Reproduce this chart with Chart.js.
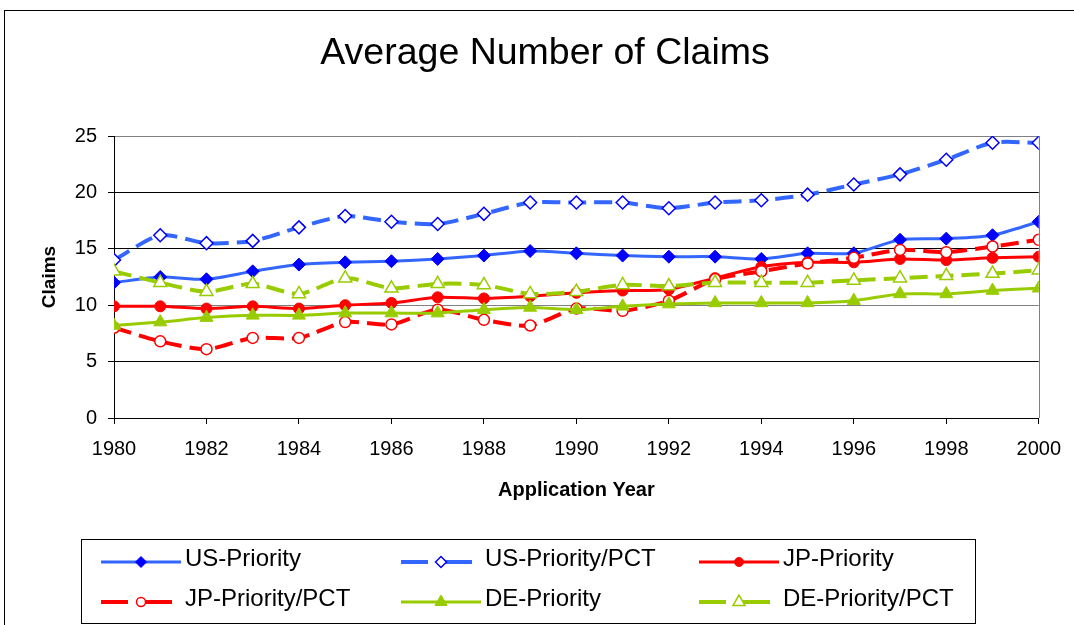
<!DOCTYPE html>
<html>
<head>
<meta charset="utf-8">
<script src="https://cdn.jsdelivr.net/npm/chart.js@4.4.1/dist/chart.umd.min.js"></script>
<style>
  html, body { margin: 0; padding: 0; background: #fff; }
</style>
</head>
<body>
<canvas id="claimsChart" width="1074" height="625"></canvas>
<script>
// values
var years = [1980, 1981, 1982, 1983, 1984, 1985, 1986, 1987, 1988, 1989, 1990,
             1991, 1992, 1993, 1994, 1995, 1996, 1997, 1998, 1999, 2000]
var usPriority = [12.0, 12.5, 12.3, 13.0, 13.6, 13.8, 13.9, 14.1, 14.4, 14.8, 14.6,
                  14.4, 14.3, 14.3, 14.1, 14.6, 14.6, 15.8, 15.9, 16.2, 17.4]
var usPct = [14.0, 16.2, 15.5, 15.7, 16.9, 17.9, 17.4, 17.2, 18.1, 19.1, 19.1,
             19.1, 18.6, 19.1, 19.3, 19.8, 20.7, 21.6, 22.9, 24.4, 24.4]
var jpPriority = [9.9, 9.9, 9.7, 9.9, 9.7, 10.0, 10.2, 10.7, 10.6, 10.8, 11.1,
                  11.3, 11.4, 12.4, 13.4, 13.8, 13.8, 14.1, 14.0, 14.2, 14.3]
var jpPct = [8.0, 6.8, 6.1, 7.1, 7.1, 8.5, 8.3, 9.6, 8.7, 8.2, 9.7,
             9.5, 10.4, 12.3, 13.0, 13.7, 14.2, 14.9, 14.7, 15.2, 15.8]
var dePriority = [8.2, 8.5, 8.9, 9.1, 9.1, 9.3, 9.3, 9.3, 9.6, 9.8, 9.6,
                  9.9, 10.1, 10.2, 10.2, 10.2, 10.4, 11.0, 11.0, 11.3, 11.5]
var dePct = [13.0, 12.0, 11.2, 11.9, 11.0, 12.4, 11.5, 11.9, 11.8, 11.0, 11.2,
             11.8, 11.7, 12.0, 12.0, 12.0, 12.2, 12.4, 12.6, 12.8, 13.1]
var seriesNames = ['US-Priority', 'US-Priority/PCT', 'JP-Priority',
                   'JP-Priority/PCT', 'DE-Priority', 'DE-Priority/PCT']

var FONT = '"Liberation Sans", Arial, sans-serif'
var BLUE_LINE = '#3366FF', BLUE_MARK = '#0000FF', RED = '#FF0000', GREEN = '#99CC00'

function pts(vals) {
    return years.map(function (y, i) { return {x: y, y: vals[i]} })
}

function markerSize(style) {
    if (style === 'circle') return 5.5
    if (style === 'triangle') return 7.5
    return 6.5
}

function series(idx, vals, lineColor, markColor, style, dashed) {
    return {
        label: seriesNames[idx],
        data: pts(vals),
        order: 6 - idx,
        borderColor: lineColor,
        borderWidth: dashed ? 4 : 3,
        borderDash: dashed ? [18, 8] : [],
        tension: 0.25,
        pointStyle: style,
        pointRadius: markerSize(style),
        pointBackgroundColor: dashed ? '#fff' : markColor,
        pointBorderColor: markColor,
        pointBorderWidth: dashed ? 1.5 : 1,
        fill: false
    }
}

// outer frame, right plot border and the boxed legend
var framePlugin = {
    id: 'frame',
    beforeDraw: function (chart) {
        var ctx = chart.ctx
        ctx.save()
        ctx.fillStyle = '#fff'
        ctx.fillRect(0, 0, chart.width, chart.height)
        ctx.strokeStyle = '#000'
        ctx.lineWidth = 1
        ctx.strokeRect(4.5, 10.5, chart.width + 20, chart.height + 20)
        ctx.restore()
    },
    beforeDatasetsDraw: function (chart) {
        var a = chart.chartArea, ctx = chart.ctx
        ctx.save()
        ctx.strokeStyle = '#808080'
        ctx.lineWidth = 1
        ctx.beginPath()
        ctx.moveTo(Math.round(a.right) + 0.5, a.top)
        ctx.lineTo(Math.round(a.right) + 0.5, a.bottom)
        ctx.stroke()
        ctx.restore()
    },
    afterDraw: function (chart) {
        var ctx = chart.ctx
        var cols = [101, 401, 699]
        var rows = [562, 602]
        ctx.save()
        ctx.strokeStyle = '#000'
        ctx.lineWidth = 1
        ctx.strokeRect(81.5, 539.5, 894, 84)
        chart.data.datasets.forEach(function (ds, i) {
            var sx = cols[i % 3], sy = rows[Math.floor(i / 3)]
            var dashed = ds.borderDash.length > 0
            ctx.strokeStyle = ds.borderColor
            ctx.lineWidth = ds.borderWidth
            ctx.setLineDash(dashed ? [27, 17] : [])
            ctx.beginPath()
            ctx.moveTo(sx, sy)
            ctx.lineTo(sx + (dashed ? 71 : 80), sy)
            ctx.stroke()
            ctx.setLineDash([])
            ctx.fillStyle = ds.pointBackgroundColor
            ctx.strokeStyle = ds.pointBorderColor
            ctx.lineWidth = ds.pointBorderWidth
            Chart.helpers.drawPoint(ctx, {
                pointStyle: ds.pointStyle,
                radius: ds.pointStyle === 'triangle' ? 7 : (ds.pointStyle === 'circle' ? 4.5 : 5.5),
                borderWidth: ds.pointBorderWidth,
                rotation: 0
            }, sx + 40, sy)
            ctx.fillStyle = '#000'
            ctx.font = '24px ' + FONT
            ctx.textAlign = 'left'
            ctx.textBaseline = 'middle'
            ctx.fillText(ds.label, sx + 84, sy - 3)
        })
        ctx.restore()
    }
}

const ctx = document.getElementById('claimsChart').getContext('2d')

const claimsChart = new Chart(ctx, {
    type: 'line',
    data: {
        datasets: [
            series(0, usPriority, BLUE_LINE, BLUE_MARK, 'rectRot', false),
            series(1, usPct, BLUE_LINE, BLUE_MARK, 'rectRot', true),
            series(2, jpPriority, RED, RED, 'circle', false),
            series(3, jpPct, RED, RED, 'circle', true),
            series(4, dePriority, GREEN, GREEN, 'triangle', false),
            series(5, dePct, GREEN, GREEN, 'triangle', true)
        ]
    },
    plugins: [framePlugin],
    options: {
        responsive: false,
        animation: false,
        layout: {
            padding: {top: 10, left: 49, right: 33, bottom: 123}
        },
        plugins: {
            legend: {display: false},
            tooltip: {enabled: false},
            title: {
                display: true,
                text: 'Average Number of Claims',
                color: '#000',
                font: {family: FONT, size: 37.5, weight: 'normal'},
                padding: {top: 21, bottom: 60}
            }
        },
        scales: {
            x: {
                type: 'linear',
                min: 1980,
                max: 2000,
                afterFit: function (s) { s.height = 84 },
                ticks: {
                    stepSize: 2,
                    color: '#000',
                    padding: 13,
                    font: {family: FONT, size: 20},
                    maxRotation: 0,
                    callback: function (v) { return String(v) }
                },
                grid: {
                    drawOnChartArea: false,
                    tickLength: 6,
                    tickColor: '#000'
                },
                border: {color: '#000', width: 1},
                title: {
                    display: true,
                    text: 'Application Year',
                    color: '#000',
                    padding: 0,
                    font: {family: FONT, size: 20, weight: 'bold'}
                }
            },
            y: {
                min: 0,
                max: 25,
                afterFit: function (s) { s.width = 65 },
                ticks: {
                    stepSize: 5,
                    color: '#000',
                    padding: 11,
                    font: {family: FONT, size: 20}
                },
                grid: {
                    color: function (c) {
                        return (c.tick && (c.tick.value === 25 || c.tick.value === 10)) ? '#808080' : '#000'
                    },
                    lineWidth: 1,
                    tickLength: 6,
                    tickColor: '#000'
                },
                border: {color: '#000', width: 1},
                title: {
                    display: true,
                    text: 'Claims',
                    color: '#000',
                    padding: {top: -10.4, bottom: 0},
                    font: {family: FONT, size: 19, weight: 'bold'}
                }
            }
        }
    }
})
</script>
</body>
</html>
